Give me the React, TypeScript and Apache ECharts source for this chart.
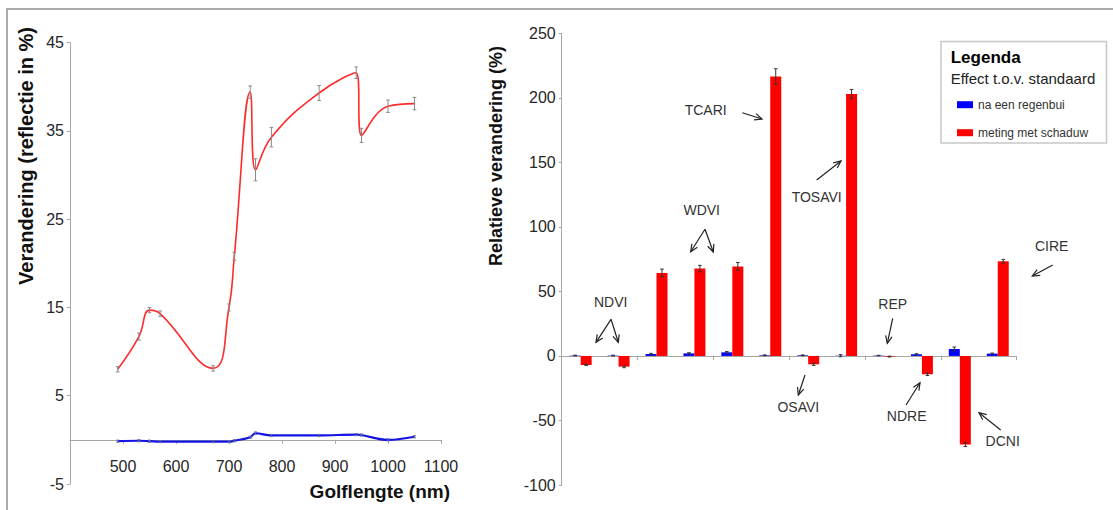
import React, { useEffect, useRef } from "react";
import * as echarts from "echarts";

// ---------- Data ----------
const wavelengths = [490, 530, 550, 570, 670, 700, 710, 740, 750, 780, 870, 940, 950, 1000, 1050];
const shadowReflectance = [8.0, 11.7, 14.7, 14.3, 8.1, 15.0, 20.8, 39.4, 30.6, 34.3, 39.3, 41.6, 34.5, 37.8, 38.1];
const shadowReflectanceErr = [0.3, 0.4, 0.3, 0.3, 0.3, 0.4, 0.45, 0.7, 1.25, 1.1, 0.85, 0.65, 0.8, 0.7, 0.7];
const rainReflectance = [-0.15, -0.1, -0.15, -0.2, -0.2, -0.2, -0.1, 0.3, 0.75, 0.5, 0.5, 0.6, 0.55, 0.0, 0.35];
const rainReflectanceErr = [0.12, 0.12, 0.12, 0.12, 0.12, 0.12, 0.12, 0.12, 0.15, 0.12, 0.12, 0.12, 0.12, 0.12, 0.12];

const indexCategories = ["NDVI-1", "NDVI-2", "WDVI-1", "WDVI-2", "WDVI-3", "TCARI", "OSAVI", "TOSAVI", "REP", "NDRE", "DCNI", "CIRE"];
const rainChange = [0.3, 0.3, 1.5, 2.0, 2.8, 0.5, 0.5, 0.2, 0.3, 1.3, 5.4, 1.8];
const rainChangeErr = [0.3, 0.3, 0.5, 0.5, 0.6, 0.3, 0.3, 0.8, 0.2, 0.4, 1.5, 0.4];
const shadowChange = [-7.0, -8.3, 64.3, 67.7, 69.4, 216.5, -6.5, 203.0, -0.5, -14.2, -68.7, 73.3];
const shadowChangeErr = [0.5, 0.8, 3.0, 2.5, 3.0, 6.0, 0.8, 3.5, 0.3, 1.0, 1.5, 1.5];

const leftYTicks = { min: -5, max: 45, interval: 10 };
const leftXTicks = { min: 400, max: 1100, interval: 100 };
const rightYTicks = { min: -100, max: 250, interval: 50 };

const RAIN_NAME = "na een regenbui";
const SHADOW_NAME = "meting met schaduw";

// ---------- Layout (annotations) ----------
const FONT = "'Liberation Sans', Arial, Helvetica, sans-serif";
const AXIS = "#a6a6a6";

const annotationTexts: [string, number, number][] = [
  ["NDVI", 610.7, 301.7],
  ["WDVI", 701.7, 210],
  ["TCARI", 705.7, 110],
  ["TOSAVI", 816.7, 196.7],
  ["OSAVI", 798.3, 406.7],
  ["REP", 892.7, 304],
  ["NDRE", 906.7, 415.7],
  ["DCNI", 1002.7, 440.7],
  ["CIRE", 1051.7, 245.7],
];
const annotationArrows: [number, number, number, number][] = [
  [611, 319.3, 596, 342.3],
  [611, 319.3, 618.3, 342.3],
  [705, 229.3, 690.7, 251.7],
  [705, 229.3, 713.3, 252],
  [742.3, 112.7, 762, 119],
  [816.7, 180, 841, 161],
  [805, 375, 798.3, 395],
  [892.7, 318.3, 887.3, 343.3],
  [906, 405, 920, 382.7],
  [1000.7, 430, 979, 412.7],
  [1052.7, 265, 1032.3, 276],
];

function arrow(x1: number, y1: number, x2: number, y2: number) {
  const ang = Math.atan2(y2 - y1, x2 - x1);
  const L = 8;
  const a = 0.42;
  const p1 = [x2 - L * Math.cos(ang - a), y2 - L * Math.sin(ang - a)];
  const p2 = [x2 - L * Math.cos(ang + a), y2 - L * Math.sin(ang + a)];
  const style = { stroke: "#222", lineWidth: 1.2, fill: "none" };
  return [
    { type: "line", shape: { x1, y1, x2, y2 }, style },
    { type: "polyline", shape: { points: [p1, [x2, y2], p2] }, style },
  ];
}

function errorBarRenderer(offset: number, color: string, cap: number) {
  return (params: any, api: any) => {
    const x = api.value(0);
    const lo = api.coord([x, api.value(1)]);
    const hi = api.coord([x, api.value(2)]);
    const cx = lo[0] + offset;
    const style = { stroke: color, lineWidth: 1 };
    return {
      type: "group",
      children: [
        { type: "line", shape: { x1: cx, y1: lo[1], x2: cx, y2: hi[1] }, style },
        { type: "line", shape: { x1: cx - cap, y1: lo[1], x2: cx + cap, y2: lo[1] }, style },
        { type: "line", shape: { x1: cx - cap, y1: hi[1], x2: cx + cap, y2: hi[1] }, style },
      ],
    };
  };
}

export default function App() {
  const ref = useRef<HTMLDivElement>(null);

  useEffect(() => {
    if (!ref.current) return;
    const chart = echarts.init(ref.current, undefined, { renderer: "svg" });

    const axisCommon = {
      axisLine: { show: true, onZero: true, lineStyle: { color: AXIS, width: 1 } },
      axisTick: { show: true, length: 4, lineStyle: { color: AXIS } },
      splitLine: { show: false },
      axisLabel: { fontSize: 16, color: "#262626", fontFamily: FONT },
    };

    const graphic: any[] = [
      // frame
      { type: "line", shape: { x1: 6, y1: 9, x2: 1113, y2: 9 }, style: { stroke: "#aaaaaa", lineWidth: 2 } },
      { type: "line", shape: { x1: 7, y1: 8, x2: 7, y2: 510 }, style: { stroke: "#aaaaaa", lineWidth: 2 } },
      // axis titles
      {
        type: "text", x: 26, y: 156, rotation: Math.PI / 2,
        style: { text: "Verandering (reflectie in %)", font: `bold 20px ${FONT}`, fill: "#111", align: "center", verticalAlign: "middle" },
      },
      {
        type: "text", x: 450, y: 491.7,
        style: { text: "Golflengte (nm)", font: `bold 19px ${FONT}`, fill: "#111", align: "right", verticalAlign: "middle" },
      },
      {
        type: "text", x: 496, y: 156, rotation: Math.PI / 2,
        style: { text: "Relatieve verandering (%)", font: `bold 18px ${FONT}`, fill: "#111", align: "center", verticalAlign: "middle" },
      },
      // legend box
      {
        type: "rect", shape: { x: 941, y: 41.5, width: 165.5, height: 101.5 },
        style: { fill: "#fff", stroke: "#c8c8c8", lineWidth: 1.5 }, z: 0,
      },
      {
        type: "text", x: 950.7, y: 57.5,
        style: { text: "Legenda", font: `bold 17px ${FONT}`, fill: "#000", align: "left", verticalAlign: "middle" }, z: 10,
      },
      {
        type: "text", x: 950.7, y: 78,
        style: { text: "Effect t.o.v. standaard", font: `15px ${FONT}`, fill: "#222", align: "left", verticalAlign: "middle" }, z: 10,
      },
    ];
    annotationTexts.forEach(([t, x, y]) => {
      graphic.push({
        type: "text", x, y,
        style: { text: t, font: `14px ${FONT}`, fill: "#333", align: "center", verticalAlign: "middle" },
      });
    });
    annotationArrows.forEach(([x1, y1, x2, y2]) => graphic.push(...arrow(x1, y1, x2, y2)));

    const option: any = {
      animation: false,
      textStyle: { fontFamily: FONT },
      grid: [
        { left: 70, top: 42.7, width: 371, height: 441.3, outerBoundsMode: "none", containLabel: false },
        { left: 561.7, top: 33.3, width: 455, height: 451.7, outerBoundsMode: "none", containLabel: false },
      ],
      xAxis: [
        {
          type: "value", gridIndex: 0, ...leftXTicks, ...axisCommon,
          axisLabel: { ...axisCommon.axisLabel, margin: -26, formatter: (v: number) => (v === leftXTicks.min ? "" : String(v)) },
        },
        {
          type: "category", gridIndex: 1, data: indexCategories, ...axisCommon,
          axisTick: { show: true, length: 4, alignWithLabel: false, lineStyle: { color: AXIS } },
          axisLabel: { show: false },
        },
      ],
      yAxis: [
        { type: "value", gridIndex: 0, ...leftYTicks, ...axisCommon, axisTick: { show: true, length: 3, lineStyle: { color: AXIS } }, axisLabel: { ...axisCommon.axisLabel, margin: 6 } },
        { type: "value", gridIndex: 1, ...rightYTicks, ...axisCommon, axisTick: { show: true, length: 3, lineStyle: { color: AXIS } }, axisLabel: { ...axisCommon.axisLabel, margin: 6 } },
      ],
      legend: {
        data: [RAIN_NAME, SHADOW_NAME],
        orient: "vertical",
        left: 952,
        top: 92.7,
        itemWidth: 16,
        itemHeight: 7,
        itemGap: 14,
        icon: "rect",
        selectedMode: false,
        textStyle: { fontSize: 12, color: "#333", lineHeight: 14, fontFamily: FONT },
        z: 10,
      },
      graphic: { elements: graphic },
      series: [
        {
          name: "spectrum-shadow",
          type: "line",
          xAxisIndex: 0, yAxisIndex: 0,
          data: wavelengths.map((w, i) => [w, shadowReflectance[i]]),
          smooth: 0.45,
          showSymbol: false,
          lineStyle: { color: "#ff2a2a", width: 1.6 },
          itemStyle: { color: "#ff2a2a" },
          z: 3,
        },
        {
          name: "spectrum-rain",
          type: "line",
          xAxisIndex: 0, yAxisIndex: 0,
          data: wavelengths.map((w, i) => [w, rainReflectance[i]]),
          smooth: 0.4,
          showSymbol: false,
          lineStyle: { color: "#1414e6", width: 2.2 },
          itemStyle: { color: "#1414e6" },
          z: 3,
        },
        {
          name: "spectrum-shadow-err",
          type: "custom",
          xAxisIndex: 0, yAxisIndex: 0,
          data: wavelengths.map((w, i) => [w, shadowReflectance[i] - shadowReflectanceErr[i], shadowReflectance[i] + shadowReflectanceErr[i]]),
          encode: { x: 0, y: [1, 2] },
          renderItem: errorBarRenderer(0, "#8a8a8a", 1.8),
          z: 4,
        },
        {
          name: "spectrum-rain-err",
          type: "custom",
          xAxisIndex: 0, yAxisIndex: 0,
          data: wavelengths.map((w, i) => [w, rainReflectance[i] - rainReflectanceErr[i], rainReflectance[i] + rainReflectanceErr[i]]),
          encode: { x: 0, y: [1, 2] },
          renderItem: errorBarRenderer(0, "#6a6aa0", 1.5),
          z: 4,
        },
        {
          name: RAIN_NAME,
          type: "bar",
          xAxisIndex: 1, yAxisIndex: 1,
          data: rainChange,
          barWidth: 11,
          barGap: "0%",
          itemStyle: { color: "#0000ff" },
          z: 2,
        },
        {
          name: SHADOW_NAME,
          type: "bar",
          xAxisIndex: 1, yAxisIndex: 1,
          data: shadowChange,
          barWidth: 11,
          barGap: "0%",
          itemStyle: { color: "#ff0000" },
          z: 2,
        },
        {
          name: "rain-err",
          type: "custom",
          xAxisIndex: 1, yAxisIndex: 1,
          data: rainChange.map((v, i) => [i, v - rainChangeErr[i], v + rainChangeErr[i]]),
          encode: { x: 0, y: [1, 2] },
          renderItem: errorBarRenderer(-5.5, "#333", 1.8),
          z: 4,
        },
        {
          name: "shadow-err",
          type: "custom",
          xAxisIndex: 1, yAxisIndex: 1,
          data: shadowChange.map((v, i) => [i, v - shadowChangeErr[i], v + shadowChangeErr[i]]),
          encode: { x: 0, y: [1, 2] },
          renderItem: errorBarRenderer(5.5, "#333", 1.8),
          z: 4,
        },
      ],
    };

    chart.setOption(option);
    return () => chart.dispose();
  }, []);

  return (
    <div
      ref={ref}
      style={{ position: "fixed", left: 0, top: 0, width: 1113, height: 510, background: "#fff" }}
    />
  );
}
